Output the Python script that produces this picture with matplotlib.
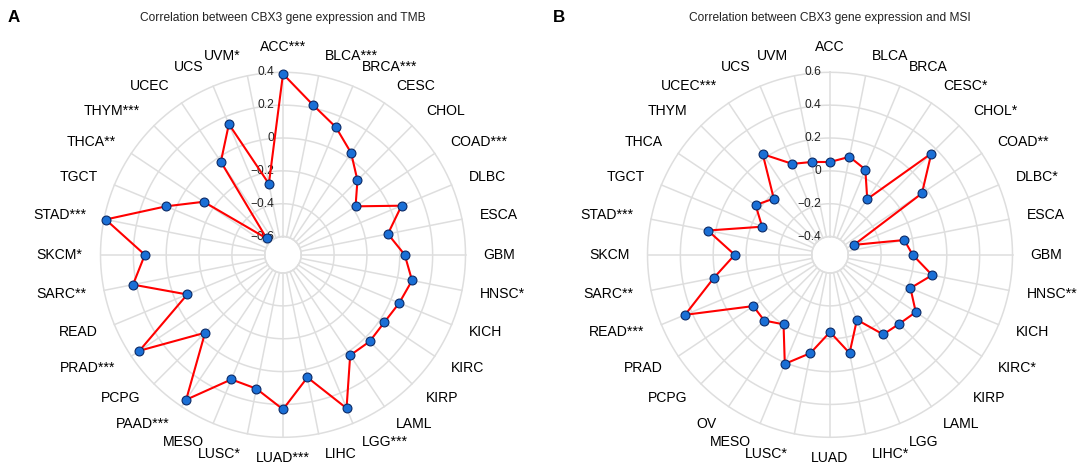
import numpy as np
import matplotlib
matplotlib.use("Agg")
import matplotlib.pyplot as plt

plt.rcParams['font.family'] = ['Liberation Sans', 'DejaVu Sans']

# ---------------- data ----------------
cats_A = ["ACC***", "BLCA***", "BRCA***", "CESC", "CHOL", "COAD***", "DLBC", "ESCA",
          "GBM", "HNSC*", "KICH", "KIRC", "KIRP", "LAML", "LGG***", "LIHC",
          "LUAD***", "LUSC*", "MESO", "PAAD***", "PCPG", "PRAD***", "READ", "SARC**",
          "SKCM*", "STAD***", "TGCT", "THCA**", "THYM***", "UCEC", "UCS", "UVM*"]
tmb = [0.39, 0.22, 0.13, 0.035, -0.07, -0.18, 0.07, -0.06,
       0.03, 0.09, 0.055, 0.03, 0.035, 0.025, 0.30, 0.05,
       0.23, 0.12, 0.11, 0.35, -0.04, 0.34, -0.08, 0.22,
       0.13, 0.39, 0.06, -0.13, -0.57, -0.03, 0.15, -0.27]
ticks_A = [-0.6, -0.4, -0.2, 0.0, 0.2, 0.4]
title_A = "Correlation between CBX3 gene expression and TMB"

cats_B = ["ACC", "BLCA", "BRCA", "CESC*", "CHOL*", "COAD**", "DLBC*", "ESCA",
          "GBM", "HNSC**", "KICH", "KIRC*", "KIRP", "LAML", "LGG", "LIHC*",
          "LUAD", "LUSC*", "MESO", "OV", "PCPG", "PRAD", "READ***", "SARC**",
          "SKCM", "STAD***", "TGCT", "THCA", "THYM", "UCEC***", "UCS", "UVM"]
msi = [0.054, 0.097, 0.051, -0.103, 0.361, 0.162, -0.353, -0.05,
       -0.008, 0.123, 0.019, 0.117, 0.084, 0.072, -0.083, 0.099,
       -0.041, 0.099, 0.208, -0.002, 0.055, 0.051, 0.444, 0.21,
       0.069, 0.247, -0.064, 0.034, -0.027, 0.226, 0.088, 0.065]
ticks_B = [-0.4, -0.2, 0.0, 0.2, 0.4, 0.6]
title_B = "Correlation between CBX3 gene expression and MSI"

# ---------------- style ----------------
W, H = 1084, 466
DPI = 100
GRID = '#dedede'
LINE = '#ff0000'
MFACE = '#1a6fd6'
MEDGE = '#0b2a66'
R_PX = 182.5
CY = 254.8
LAB_PX = 14
PT = 72.0 / DPI

fig = plt.figure(figsize=(W / DPI, H / DPI), dpi=DPI)
fig.patch.set_facecolor('white')


def fmt(v):
    if abs(v) < 1e-9:
        return "0"
    s = f"{v:.1f}"
    return s.replace('-', '\u2212')


def panel(cx, cats, vals, ticks, title, letter, letter_x):
    left = (cx - R_PX) / W
    bottom = (H - CY - R_PX) / H
    ax = fig.add_axes([left, bottom, 2 * R_PX / W, 2 * R_PX / H], projection='polar')
    ax.set_theta_zero_location('N')
    ax.set_theta_direction(-1)
    rmin, rmax = ticks[0], ticks[-1]
    ax.set_ylim(rmin, rmax)
    ax.set_rorigin(rmin - (rmax - rmin) / 9.0)
    ax.grid(False)
    ax.set_xticks([])
    ax.set_yticks([])
    for sp in ax.spines.values():
        sp.set_edgecolor(GRID)
        sp.set_linewidth(1.1)
        sp.set_visible(False)
    ax.patch.set_visible(False)

    n = len(cats)
    th = np.arange(n) * 2 * np.pi / n
    tt = np.linspace(0, 2 * np.pi, 721)
    for r in ticks:
        ax.plot(tt, np.full_like(tt, r), color=GRID, lw=1.1, zorder=1, clip_on=False)
    for t in th:
        ax.plot([t, t], [rmin, rmax], color=GRID, lw=1.1, zorder=1, clip_on=False)

    # radial tick labels
    for r in ticks:
        ax.annotate(fmt(r), xy=(0, r), xytext=(-9, 0), textcoords='offset pixels',
                    ha='right', va='center', fontsize=12 * PT, color='#222222', zorder=2,
                    annotation_clip=False)

    # data
    tc = np.append(th, th[0])
    vc = np.append(np.asarray(vals, float), vals[0])
    ax.plot(tc, vc, color=LINE, lw=1.5, zorder=3, clip_on=False)
    ax.plot(th, vals, ls='none', marker='o', ms=6.4, mfc=MFACE, mec=MEDGE, mew=0.8,
            zorder=4, clip_on=False)

    # category labels
    pad = 14.0
    f = 0.5 * (R_PX + pad) / R_PX
    for i, lab in enumerate(cats):
        s, c = np.sin(th[i]), np.cos(th[i])
        x = 0.5 + f * s
        y = 0.5 + f * c
        if abs(s) < 0.1:
            ha = 'center'
            dx = 0
        else:
            ha = 'left' if s > 0 else 'right'
            dx = 4 * np.sign(s)
        dy = c * 6.5
        if abs(s) < 0.1 and c > 0:
            dy += 5
        ax.annotate(lab, xy=(x, y), xycoords='axes fraction',
                    xytext=(dx * PT, dy * PT), textcoords='offset points',
                    ha=ha, va='center', fontsize=LAB_PX * PT, color='black',
                    annotation_clip=False)

    fig.text(cx / W, 1 - 18 / H, title, ha='center', va='center',
             fontsize=12 * PT, color='#222222')
    fig.text(letter_x / W, 1 - 18 / H, letter, ha='left', va='center',
             fontsize=17 * PT, fontweight='bold', color='black')
    return ax


panel(283, cats_A, tmb, ticks_A, title_A, "A", 8)
panel(830, cats_B, msi, ticks_B, title_B, "B", 553)

fig.savefig("out.png", dpi=DPI, facecolor='white')
